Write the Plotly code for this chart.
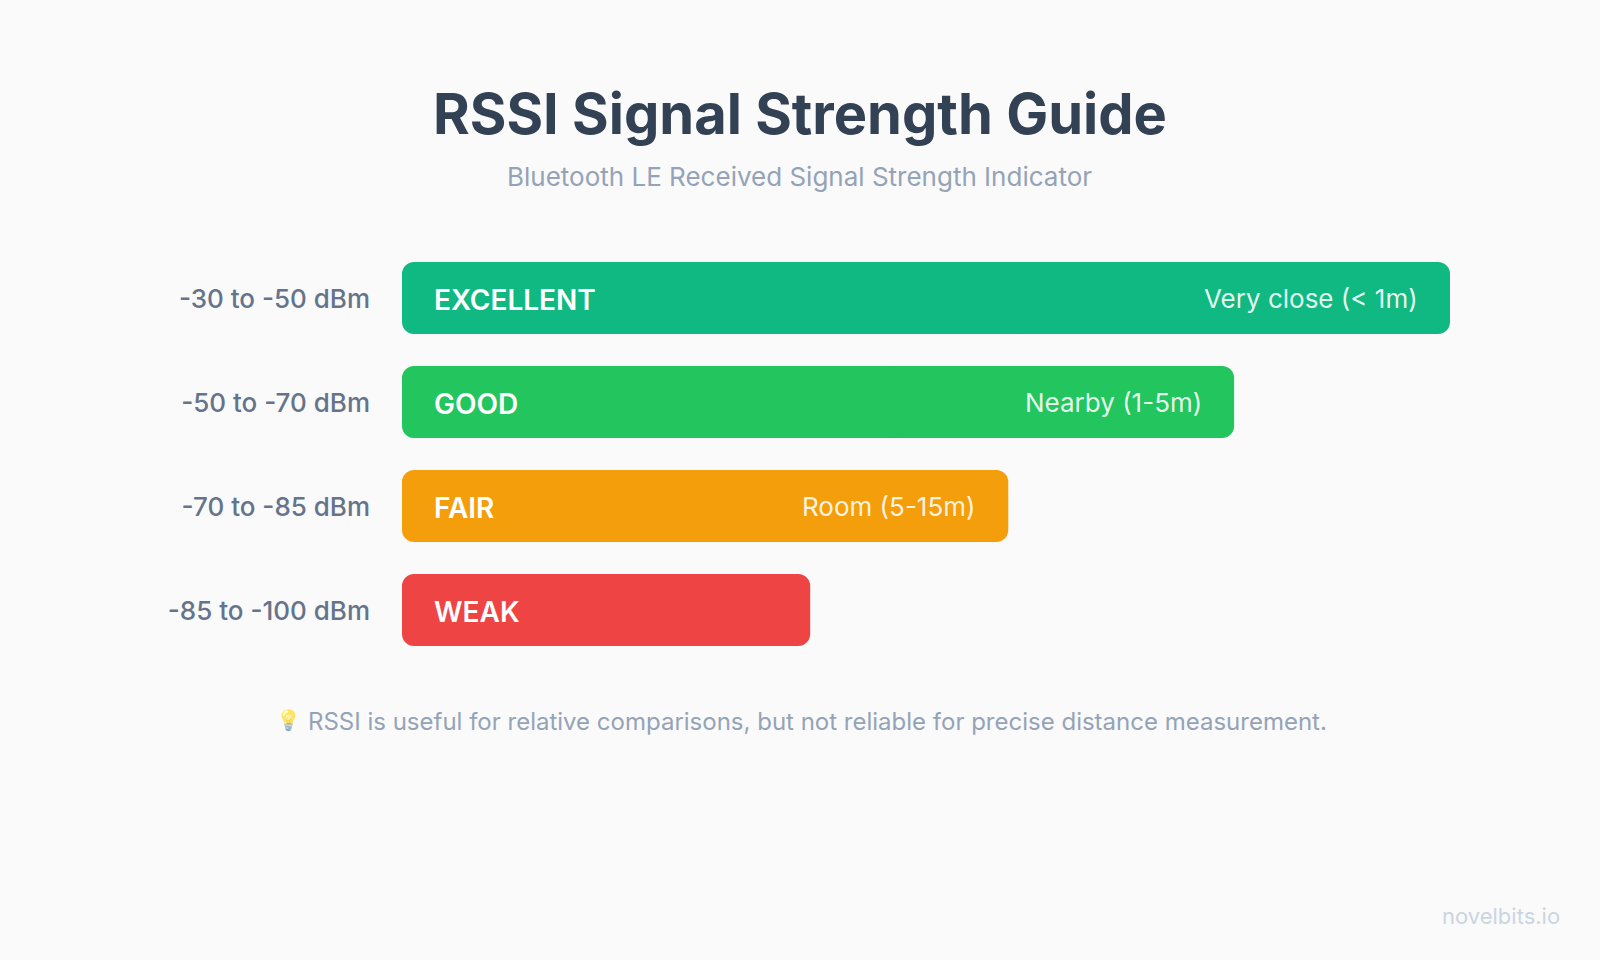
import plotly.graph_objects as go

ranges = ["-30 to -50 dBm", "-50 to -70 dBm", "-70 to -85 dBm", "-85 to -100 dBm"]
grades = ["EXCELLENT", "GOOD", "FAIR", "WEAK"]
widths = [100, 79.4, 57.85, 38.95]
notes = ["Very close (< 1m)", "Nearby (1-5m)", "Room (5-15m)", ""]
colors = ["#10b981", "#22c55e", "#f59e0b", "#ef4444"]

FONT = "Inter"
fig = go.Figure()
# Each bar is drawn as two overlapping halves so both ends get rounded corners.
fig.add_trace(go.Bar(y=ranges, x=[w * 0.6 for w in widths], base=[w * 0.4 for w in widths],
                     orientation="h", marker=dict(color=colors, line=dict(width=0)), hoverinfo="skip"))
fig.add_trace(go.Bar(y=ranges, x=[-w * 0.6 for w in widths], base=[w * 0.6 for w in widths],
                     orientation="h", marker=dict(color=colors, line=dict(width=0)), hoverinfo="skip"))

annotations = []
for r, g, w, n in zip(ranges, grades, widths, notes):
    annotations.append(dict(x=0, y=r, xref="x", yref="y", text=g, showarrow=False, xanchor="left", xshift=30, yshift=-1.5,
                            font=dict(family=FONT, size=28, color="#ffffff", weight=600)))
    if n:
        annotations.append(dict(x=w, y=r, xref="x", yref="y", text=n, showarrow=False, xanchor="right", xshift=-30,
                                yshift=0,
                                font=dict(family=FONT, size=26, color="rgba(255,255,255,0.9)")))
texts = [
    ("RSSI Signal Strength Guide", 800, 114, "center", 56, "#334155", 700, 1),
    ("Bluetooth LE Received Signal Strength Indicator", 799.5, 176.7, "center", 26, "#94a3b8", 400, 1),
    ("RSSI is useful for relative comparisons, but not reliable for precise distance measurement.", 306, 721, "left", 24, "#94a3b8", 400, 1),
    ("💡", 288, 720, "center", 20, "#94a3b8", 400, 0.6),
    ("novelbits.io", 1562, 916, "right", 22, "#cbd5e1", 400, 1),
]
for t, x, y, anc, size, col, wt, op in texts:
    annotations.append(dict(x=x / 1600, y=1 - y / 960, xref="paper", yref="paper", text=t, showarrow=False, opacity=op,
                            xanchor=anc, yanchor="middle", font=dict(family=FONT, size=size, color=col, weight=wt)))

# paper coords above are for the full page, so map them onto the plot domain
L, R, T, B = 402, 150, 246, 298
for a in annotations:
    if a["xref"] == "paper":
        a["x"] = (a["x"] * 1600 - L) / (1600 - L - R)
        a["y"] = (a["y"] * 960 - B) / (960 - T - B)

fig.update_layout(
    width=1600, height=960, margin=dict(l=L, r=R, t=T, b=B),
    paper_bgcolor="#fafafa", plot_bgcolor="#fafafa", showlegend=False,
    barmode="overlay", bargap=32 / 104, barcornerradius=12,
    annotations=annotations,
    xaxis=dict(range=[0, 100], visible=False, fixedrange=True),
    yaxis=dict(categoryorder="array", categoryarray=ranges[::-1], showgrid=False, zeroline=False, showline=False,
               ticks="", ticklabelstandoff=31, ticklabelshift=1,
               tickfont=dict(family=FONT, size=26, color="#64748b", weight=500), fixedrange=True),
)
fig.write_html("out.html", post_script="document.body.style.margin='0';document.body.style.background='#fafafa';",
               config=dict(displayModeBar=False))
